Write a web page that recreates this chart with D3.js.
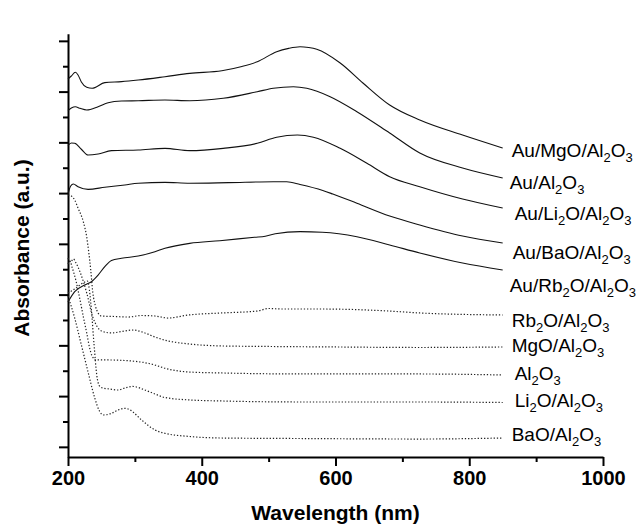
<!DOCTYPE html>
<html><head><meta charset="utf-8">
<script src="https://cdn.jsdelivr.net/npm/d3@7"></script>
<style>body{margin:0;background:#fff}</style>
</head><body>
<svg id="chart" width="638" height="525"></svg>
<script>
// ---- data: [wavelength (nm), absorbance (a.u., offset stacked)] ----
const auMgO = [[200,3.724],[205,3.754],[211,3.790],[215,3.764],[220,3.695],[228,3.642],[236,3.633],[255,3.688],[280,3.698],[305,3.714],[345,3.747],[382,3.780],[430,3.805],[460,3.847],[483,3.894],[512,3.993],[530,4.026],[547,4.042],[560,4.034],[572,4.017],[607,3.882],[641,3.685],[681,3.468],[726,3.320],[790,3.172],[850,3.044]];
const auAl = [[200,3.414],[205,3.438],[211,3.451],[218,3.435],[228,3.419],[245,3.451],[260,3.491],[280,3.507],[305,3.510],[345,3.517],[382,3.510],[432,3.534],[483,3.599],[507,3.633],[537,3.648],[557,3.633],[592,3.550],[632,3.402],[681,3.192],[726,2.995],[790,2.847],[850,2.749]];
const auLi = [[200,3.069],[205,3.094],[210,3.091],[220,3.032],[230,2.975],[245,2.985],[265,3.018],[305,3.025],[345,3.041],[382,3.018],[432,3.041],[483,3.091],[512,3.151],[543,3.172],[567,3.151],[607,3.041],[647,2.894],[681,2.762],[726,2.663],[790,2.542],[850,2.453]];
const auBa = [[200,2.591],[204,2.670],[208,2.690],[215,2.663],[230,2.637],[255,2.657],[285,2.680],[305,2.697],[345,2.706],[382,2.697],[440,2.703],[507,2.712],[527,2.712],[547,2.685],[581,2.626],[596,2.591],[632,2.500],[681,2.374],[726,2.286],[790,2.177],[850,2.108]];
const auRb = [[200,1.527],[210,1.629],[225,1.695],[235,1.727],[245,1.793],[255,1.875],[265,1.936],[280,1.958],[305,1.980],[330,2.023],[345,2.056],[382,2.105],[427,2.131],[479,2.165],[495,2.175],[510,2.200],[547,2.220],[580,2.214],[632,2.170],[681,2.089],[726,2.010],[790,1.911],[850,1.842]];
const rb = [[200,2.581],[205,2.571],[210,2.532],[215,2.453],[223,2.315],[228,2.167],[231,2.020],[234,1.842],[237,1.626],[241,1.488],[245,1.419],[250,1.389],[270,1.384],[290,1.379],[310,1.394],[330,1.389],[350,1.369],[380,1.399],[430,1.419],[483,1.438],[500,1.463],[520,1.458],[580,1.458],[680,1.438],[726,1.419],[850,1.399]];
const mg = [[200,1.961],[204,1.921],[208,1.951],[212,1.911],[218,1.823],[228,1.616],[237,1.379],[243,1.291],[250,1.241],[265,1.222],[280,1.236],[297,1.251],[315,1.222],[330,1.182],[350,1.143],[382,1.113],[430,1.094],[500,1.089],[600,1.084],[726,1.079],[850,1.084]];
const al = [[200,1.901],[203,1.931],[206,1.872],[212,1.734],[218,1.547],[223,1.379],[228,1.222],[232,1.084],[236,0.995],[242,0.956],[260,0.956],[305,0.939],[330,0.906],[345,0.874],[382,0.837],[430,0.828],[550,0.818],[726,0.818],[850,0.808]];
const li = [[200,1.616],[210,1.655],[218,1.695],[225,1.724],[229,1.734],[232,1.645],[235,1.448],[239,1.103],[243,0.808],[247,0.700],[252,0.680],[262,0.670],[275,0.660],[285,0.680],[297,0.695],[315,0.660],[330,0.621],[345,0.586],[382,0.562],[430,0.552],[550,0.542],[726,0.542],[850,0.537]];
const ba = [[200,1.586],[210,1.369],[220,1.103],[230,0.837],[240,0.581],[247,0.453],[253,0.414],[265,0.430],[275,0.463],[285,0.480],[293,0.463],[310,0.365],[330,0.266],[345,0.233],[382,0.202],[430,0.187],[550,0.182],[726,0.177],[850,0.187]];

const seriesNames = ["Au/MgO/Al_2O_3","Au/Al_2O_3","Au/Li_2O/Al_2O_3","Au/BaO/Al_2O_3","Au/Rb_2O/Al_2O_3","Rb_2O/Al_2O_3","MgO/Al_2O_3","Al_2O_3","Li_2O/Al_2O_3","BaO/Al_2O_3"];
const seriesData = [auMgO, auAl, auLi, auBa, auRb, rb, mg, al, li, ba];
const seriesDotted = [false,false,false,false,false,true,true,true,true,true];

const xMajorTicks = [200,400,600,800,1000];
const xMinorTicks = [300,500,700,900];
const yMajorTicks = [0.1,0.6,1.1,1.6,2.1,2.6,3.1,3.6,4.1];
const yMinorTicks = [0.35,0.85,1.35,1.85,2.35,2.85,3.35,3.85];
const xTitle = "Wavelength (nm)";
const yTitle = "Absorbance (a.u.)";

// ---- layout ----
const labelDx = [9,7,12,10,7,9,9,12,12,9];
const labelDy = [2,4,5,9,15,5,-2,-2,-2,-4];

const svg = d3.select("#chart");
const x = d3.scaleLinear().domain([200,1000]).range([68,603]);
const y = d3.scaleLinear().domain([0,4.17]).range([457, 457-4.17*101.5]);
const font = "'Liberation Sans', Arial, Helvetica, sans-serif";

// axes
const gx = svg.append("g").attr("transform","translate(0,457)")
  .call(d3.axisBottom(x).tickValues(xMajorTicks).tickSize(9).tickSizeOuter(0).tickPadding(5).tickFormat(d3.format("d")));
svg.append("g").attr("transform","translate(0,457)")
  .call(d3.axisBottom(x).tickValues(xMinorTicks).tickSize(5).tickFormat(""))
  .call(g=>g.select(".domain").remove());
const gy = svg.append("g").attr("transform","translate(68,0)")
  .call(d3.axisLeft(y).tickValues(yMajorTicks).tickSize(9).tickSizeOuter(0).tickFormat(""));
svg.append("g").attr("transform","translate(68,0)")
  .call(d3.axisLeft(y).tickValues(yMinorTicks).tickSize(5).tickFormat(""))
  .call(g=>g.select(".domain").remove());
svg.selectAll(".domain").attr("stroke","#000").attr("stroke-width",2);
svg.selectAll(".tick line").attr("stroke","#000").attr("stroke-width",2);
gx.selectAll(".tick text").attr("font-family",font).attr("font-size",20).attr("font-weight","bold").attr("fill","#000");

// titles
svg.append("text").attr("x",335.5).attr("y",520).attr("text-anchor","middle")
  .attr("font-family",font).attr("font-size",21).attr("font-weight","bold").text(xTitle);
svg.append("text").attr("transform","translate(29,248) rotate(-90)").attr("text-anchor","middle")
  .attr("font-family",font).attr("font-size",21).attr("font-weight","bold").text(yTitle);

// lines
const line = d3.line().x(d=>x(d[0])).y(d=>y(d[1])).curve(d3.curveMonotoneX);
seriesData.forEach((data,i)=>{
  svg.append("path").datum(data).attr("d",line).attr("fill","none")
    .attr("stroke", seriesDotted[i] ? "#222" : "#111")
    .attr("stroke-width", seriesDotted[i] ? 1.2 : 1.1)
    .attr("stroke-dasharray", seriesDotted[i] ? "1.3,1.9" : null);
  const last = data[data.length-1];
  const t = svg.append("text").attr("x", x(last[0])+labelDx[i]).attr("y", y(last[1])+labelDy[i]+7)
    .attr("font-family",font).attr("font-size",19).attr("fill","#000");
  const parts = seriesNames[i].split(/(_\d)/).filter(s=>s.length);
  let sub=false;
  parts.forEach(p=>{
    if(p[0]==="_"){
      t.append("tspan").attr("font-size",13).attr("dy",5).text(p.slice(1));
      sub=true;
    } else {
      const ts=t.append("tspan").text(p);
      if(sub){ts.attr("dy",-5); sub=false;}
    }
  });
});
</script>
</body></html>
